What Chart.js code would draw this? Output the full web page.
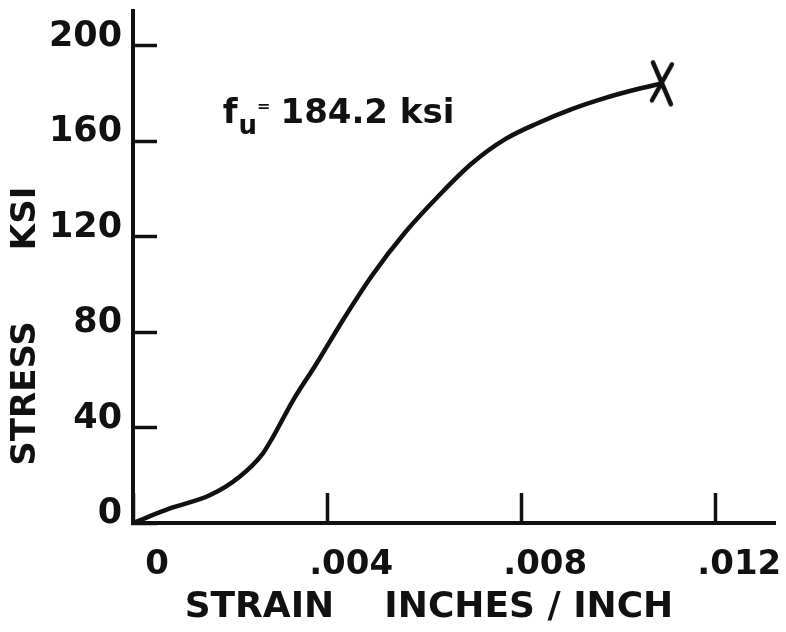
<!DOCTYPE html>
<html>
<head>
<meta charset="utf-8">
<script src="https://cdn.jsdelivr.net/npm/chart.js@4.4.1/dist/chart.umd.min.js"></script>
<style>
  html, body { margin: 0; padding: 0; background: #fff; }
  canvas { display: block; }
</style>
</head>
<body>
<canvas id="stress-chart" width="786" height="632"></canvas>
<script>
"use strict";

// stress-strain curve
const strain = [0, 0.00076, 0.00158, 0.00219, 0.00267, 0.00288, 0.00329, 0.00377, 0.00435, 0.00493,
  0.00561, 0.0063, 0.00698, 0.00767, 0.00835, 0.00903, 0.00972, 0.0104, 0.0109];
const stress = [0, 6.1, 11.6, 19.3, 29.0, 35.9, 51.1, 66.4, 85.8, 103.8,
  121.8, 137.1, 150.6, 160.8, 167.6, 173.3, 178.0, 181.8, 184.2];

// failure point (the X)
const failureStrain = [0.0109];
const failureStress = [184.2];

const xTicks = [0, 0.004, 0.008, 0.012];
const xTickLabels = ["0", ".004", ".008", ".012"];
const yTicks = [0, 40, 80, 120, 160, 200];
const yTickLabels = ["0", "40", "80", "120", "160", "200"];

const xTitle = "STRAIN    INCHES / INCH    ";
const yTitle = "STRESS      KSI          ";
const noteValue = "184.2 ksi";
const noteStrain = 0.00185;
const noteStress = 167.6;

const INK = "#111";
const FONT = "'DejaVu Sans', sans-serif";

function makeCross() {
  const c = document.createElement("canvas");
  c.width = 28;
  c.height = 50;
  const g = c.getContext("2d");
  g.strokeStyle = INK;
  g.lineWidth = 4.5;
  g.lineCap = "round";
  g.beginPath();
  g.moveTo(5, 4);
  g.lineTo(23, 46);
  g.moveTo(24, 6);
  g.lineTo(4, 42);
  g.stroke();
  return c;
}

const fuLabel = {
  id: "fuLabel",
  afterDatasetsDraw(chart) {
    const { ctx, scales: { x, y } } = chart;
    let px = x.getPixelForValue(noteStrain);
    const py = y.getPixelForValue(noteStress);
    ctx.save();
    ctx.fillStyle = INK;
    ctx.textBaseline = "alphabetic";
    ctx.font = `bold 34px ${FONT}`;
    ctx.fillText("f", px, py);
    px += ctx.measureText("f").width + 1;
    ctx.font = `bold 26px ${FONT}`;
    ctx.fillText("u", px, py + 11);
    px += ctx.measureText("u").width;
    ctx.font = `bold 16px ${FONT}`;
    ctx.fillText("=", px, py - 12);
    px += ctx.measureText("=").width + 10;
    ctx.font = `bold 34px ${FONT}`;
    ctx.fillText(noteValue, px, py);
    ctx.restore();
  },
};

new Chart(document.getElementById("stress-chart"), {
  type: "line",
  data: {
    datasets: [
      {
        data: strain.map((s, i) => ({ x: s, y: stress[i] })),
        borderColor: INK,
        borderWidth: 4.5,
        pointRadius: 0,
        cubicInterpolationMode: "monotone",
        fill: false,
      },
      {
        data: failureStrain.map((s, i) => ({ x: s, y: failureStress[i] })),
        showLine: false,
        pointStyle: makeCross(),
        pointRadius: 10,
      },
    ],
  },
  options: {
    responsive: false,
    animation: false,
    layout: { padding: { left: 0, right: 8, top: 7, bottom: 0 } },
    plugins: { legend: { display: false }, tooltip: { enabled: false } },
    scales: {
      x: {
        type: "linear",
        min: 0,
        max: 0.01323,
        afterBuildTicks: axis => { axis.ticks = xTicks.map(v => ({ value: v })); },
        afterFit: axis => {
          axis.height = 109;
          axis.paddingLeft = 0;
          axis.paddingRight = 0;
        },
        border: { color: INK, width: 4 },
        grid: { drawOnChartArea: false, drawTicks: true, tickLength: -30, tickWidth: 3.5, tickColor: INK },
        ticks: {
          color: INK,
          font: { family: FONT, weight: "bold", size: 34 },
          padding: 52,
          labelOffset: 24,
          maxRotation: 0,
          callback: (v, i) => xTickLabels[i],
        },
        title: {
          display: true,
          text: xTitle,
          color: INK,
          font: { family: FONT, weight: "bold", size: 36 },
          padding: { top: 0, bottom: 3 },
        },
      },
      y: {
        type: "linear",
        min: 0,
        max: 214.5,
        afterBuildTicks: axis => { axis.ticks = yTicks.map(v => ({ value: v })); },
        afterFit: axis => {
          axis.width = 133;
          axis.paddingTop = 0;
          axis.paddingBottom = 0;
        },
        border: { color: INK, width: 4 },
        grid: { drawOnChartArea: false, drawTicks: true, tickLength: -24, tickWidth: 3.5, tickColor: INK },
        ticks: {
          color: INK,
          font: { family: FONT, weight: "bold", size: 35 },
          padding: 35,
          labelOffset: -9,
          callback: (v, i) => yTickLabels[i],
        },
        title: {
          display: true,
          text: yTitle,
          color: INK,
          font: { family: FONT, weight: "bold", size: 34 },
          padding: { top: 6, bottom: 0 },
        },
      },
    },
  },
  plugins: [fuLabel],
});
</script>
</body>
</html>
